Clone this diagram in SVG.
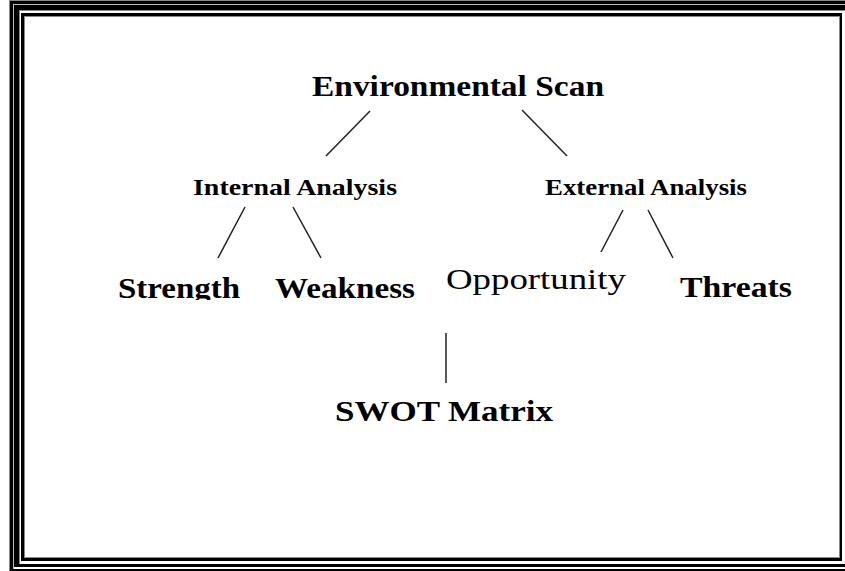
<svg xmlns="http://www.w3.org/2000/svg" width="845" height="571" viewBox="0 0 845 571">
  <style>
    .t { font-family: "Liberation Serif", "Times New Roman", serif; fill: #000; }
    .b { font-weight: bold; }
    .big { font-size: 30px; }
    .mid { font-size: 24px; }
    .conn line { stroke: #222; stroke-width: 1.5; }
  </style>
  <defs>
    <clipPath id="clipStrength"><rect x="100" y="260" width="160" height="40"/></clipPath>
  </defs>
  <rect x="0" y="0" width="845" height="571" fill="#fff"/>
  <g id="frame">
    <rect x="9" y="0" width="836" height="1" fill="#888"/>
    <rect x="9" y="0" width="1" height="571" fill="#888"/>
    <rect x="10" y="1" width="835" height="3" fill="#000"/>
    <rect x="10" y="1" width="3" height="570" fill="#000"/>
    <rect x="13" y="4" width="832" height="1" fill="#bbb"/>
    <rect x="13" y="4" width="1" height="567" fill="#bbb"/>
    <rect x="14" y="5" width="831" height="5" fill="#000"/>
    <rect x="14" y="5" width="5" height="562" fill="#000"/>
    <rect x="19" y="10" width="826" height="1" fill="#888"/>
    <rect x="19" y="10" width="1" height="554" fill="#888"/>
    <rect x="21" y="13" width="821" height="3" fill="#000"/>
    <rect x="21" y="13" width="3" height="548" fill="#000"/>
    <rect x="840" y="13" width="2" height="548" fill="#000"/>
    <rect x="21" y="558" width="821" height="3" fill="#000"/>
    <rect x="24" y="16" width="816" height="1" fill="#888"/>
    <rect x="24" y="16" width="1" height="542" fill="#888"/>
    <rect x="839" y="16" width="1" height="542" fill="#888"/>
    <rect x="24" y="557" width="816" height="1" fill="#888"/>
    <rect x="14" y="564" width="831" height="3" fill="#000"/>
    <rect x="10" y="569" width="835" height="2" fill="#000"/>
  </g>
  <g id="connectors" class="conn">
    <line x1="370" y1="111" x2="326" y2="156"/>
    <line x1="522" y1="110" x2="567" y2="156"/>
    <line x1="245" y1="207" x2="218" y2="258"/>
    <line x1="293" y1="207" x2="321" y2="258"/>
    <line x1="623" y1="210" x2="601" y2="252"/>
    <line x1="648" y1="210" x2="673" y2="258"/>
    <line x1="446" y1="333" x2="446" y2="383"/>
  </g>
  <g id="node-environmental-scan">
    <text class="t b big" x="312" y="96" textLength="292" lengthAdjust="spacingAndGlyphs">Environmental Scan</text>
  </g>
  <g id="node-internal-analysis">
    <text class="t b mid" x="193" y="195" textLength="204" lengthAdjust="spacingAndGlyphs">Internal Analysis</text>
  </g>
  <g id="node-external-analysis">
    <text class="t b mid" x="545" y="195" textLength="202" lengthAdjust="spacingAndGlyphs">External Analysis</text>
  </g>
  <g id="node-strength" clip-path="url(#clipStrength)">
    <text class="t b big" x="118" y="298" textLength="122" lengthAdjust="spacingAndGlyphs">Strength</text>
  </g>
  <g id="node-weakness">
    <text class="t b big" x="275" y="298" textLength="140" lengthAdjust="spacingAndGlyphs">Weakness</text>
  </g>
  <g id="node-opportunity">
    <text class="t big" x="446" y="289" textLength="180" lengthAdjust="spacingAndGlyphs">Opportunity</text>
  </g>
  <g id="node-threats">
    <text class="t b big" x="680" y="297" textLength="112" lengthAdjust="spacingAndGlyphs">Threats</text>
  </g>
  <g id="node-swot-matrix">
    <text class="t b big" x="335" y="421" textLength="218" lengthAdjust="spacingAndGlyphs">SWOT Matrix</text>
  </g>
</svg>
